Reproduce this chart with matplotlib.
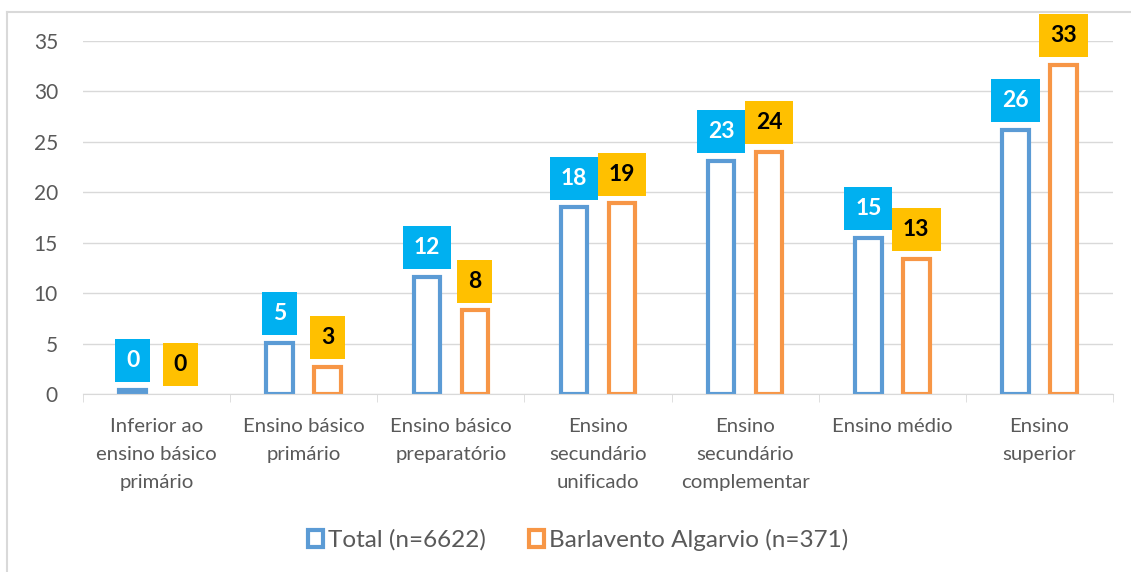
import numpy as np
import matplotlib.pyplot as plt
from matplotlib.patches import Rectangle
from matplotlib.lines import Line2D

plt.rcParams['font.family'] = ['Lato', 'DejaVu Sans']

categorias = ["Inferior ao\nensino básico\nprimário", "Ensino básico\nprimário",
              "Ensino básico\npreparatório", "Ensino\nsecundário\nunificado",
              "Ensino\nsecundário\ncomplementar", "Ensino médio", "Ensino\nsuperior"]
total = [0.4, 5.1, 11.6, 18.5, 23.1, 15.5, 26.2]
barlavento = [0.0, 2.7, 8.3, 18.9, 24.0, 13.4, 32.6]
rot_total = ["0", "5", "12", "18", "23", "15", "26"]
rot_barl = ["0", "3", "8", "19", "24", "13", "33"]

fig = plt.figure(figsize=(11.31, 5.72), dpi=100)
ax = fig.add_axes([83/1131, 1-394/572, 1030/1131, 353/572])

x = np.arange(len(categorias))
w = 0.18
off = 0.163
lw_t = [3 if v > 0 else 0 for v in total]
lw_b = [3 if v > 0 else 0 for v in barlavento]
ax.bar(x - off, total, w, facecolor='white', edgecolor='#5B9BD5', linewidth=lw_t, zorder=3)
ax.bar(x + off, barlavento, w, facecolor='white', edgecolor='#F79646', linewidth=lw_b, zorder=3)

for i in range(len(x)):
    ax.annotate(rot_total[i], (x[i] - off, total[i]), xytext=(0, 13.5),
                textcoords='offset points', ha='center', va='bottom', fontsize=16.5,
                fontweight='bold', color='white',
                bbox=dict(boxstyle='square,pad=0.48', fc='#00B0F0', ec='none'),
                annotation_clip=False, zorder=4)
    ax.annotate(rot_barl[i], (x[i] + off, barlavento[i]), xytext=(0, 13.5),
                textcoords='offset points', ha='center', va='bottom', fontsize=16.5,
                fontweight='bold', color='black',
                bbox=dict(boxstyle='square,pad=0.48', fc='#FFC000', ec='none'),
                annotation_clip=False, zorder=5)

ax.set_xlim(-0.5, len(x) - 0.5)
ax.set_ylim(0, 35)
ax.set_yticks(range(0, 36, 5))
ax.yaxis.grid(True, color='#D9D9D9', linewidth=1)
ax.set_axisbelow(True)
for s in ['top', 'right', 'left']:
    ax.spines[s].set_visible(False)
ax.spines['bottom'].set_color('#D9D9D9')
ax.spines['bottom'].set_zorder(6)
ax.tick_params(axis='y', length=0, pad=18, labelsize=15, labelcolor='#595959')
ax.set_xticks(x)
ax.set_xticklabels(categorias, fontsize=14.7, color='#595959', linespacing=1.8, va='top')
ax.tick_params(axis='x', which='major', length=0, pad=17)
ax.set_xticks(np.arange(-0.5, len(x), 1), minor=True)
ax.tick_params(axis='x', which='minor', length=6, color='#D9D9D9')

h1 = Rectangle((0, 0), 1, 1, fc='white', ec='#5B9BD5', lw=3)
h2 = Rectangle((0, 0), 1, 1, fc='white', ec='#F79646', lw=3)
leg = fig.legend([h1, h2], ["Total (n=6622)", "Barlavento Algarvio (n=371)"], loc='center',
                 bbox_to_anchor=(578/1131, 1 - 540/572), ncol=2, frameon=False, fontsize=17.5,
                 handlelength=0.65, handleheight=0.65, handletextpad=0.2, columnspacing=1.75,
                 borderpad=0, borderaxespad=0)
for t in leg.get_texts():
    t.set_color('#595959')

# chart border (only top and left visible in the crop)
fig.add_artist(Line2D([7/1131, 7/1131], [0, 1 - 12/572], transform=fig.transFigure,
                      color='#D9D9D9', lw=1.5))
fig.add_artist(Line2D([7/1131, 1], [1 - 12/572, 1 - 12/572], transform=fig.transFigure,
                      color='#D9D9D9', lw=1.5))

plt.savefig("out.png", dpi=100)
